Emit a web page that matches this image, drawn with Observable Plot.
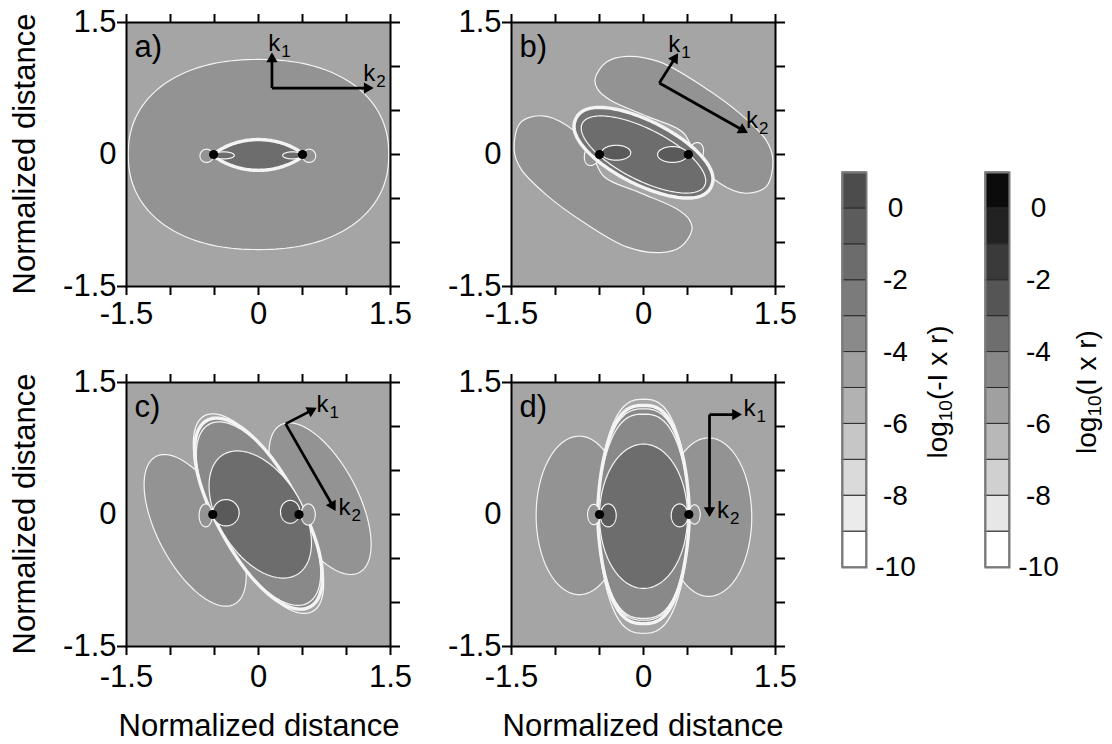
<!DOCTYPE html>
<html><head><meta charset="utf-8">
<script src="https://cdn.jsdelivr.net/npm/d3@7"></script>
<script src="https://cdn.jsdelivr.net/npm/@observablehq/plot@0.6"></script>
<style>
body{margin:0;background:#fff;}
#root{position:relative;width:1112px;height:744px;font-family:"Liberation Sans",Arial,sans-serif;overflow:hidden;color:#000}
#root svg{position:absolute;overflow:visible}
.rot{position:absolute;transform:translate(-50%,-50%) rotate(-90deg);white-space:nowrap;line-height:1}
.hl{position:absolute;transform:translate(-50%,-50%);white-space:nowrap;line-height:1}
sub{font-size:0.68em;vertical-align:-0.28em;line-height:0}
</style></head><body><div id="root"></div>
<script>
// ---------------- data ----------------
const axisTicks = [-1.5, -1, -0.5, 0, 0.5, 1, 1.5];
const labelTicks = [-1.5, 0, 1.5];
const panelLetters = ["a)", "b)", "c)", "d)"];

// fill levels of the contour regions (grey steps)
const levelNames = ["bg", "med", "ring", "ringB", "dark", "core"];

// point charges (normalized coordinates)
const chargesA = [{x: -0.51, y: 0}, {x: 0.50, y: 0}];
const chargesB = [{x: -0.50, y: 0}, {x: 0.51, y: 0}];
const chargesC = [{x: -0.52, y: 0}, {x: 0.46, y: 0}];
const chargesD = [{x: -0.50, y: 0}, {x: 0.515, y: 0}];

// wave-vector arrows k1, k2 (tail, tip, label anchor)
const arrowsA = [
  {sub: "1", x1: 0.153, y1: 0.755, x2: 0.153, y2: 1.13, lx: 0.11, ly: 1.18},
  {sub: "2", x1: 0.153, y1: 0.755, x2: 1.28, y2: 0.755, lx: 1.19, ly: 0.84}
];
const arrowsB = [
  {sub: "1", x1: 0.18, y1: 0.813, x2: 0.377, y2: 1.126, lx: 0.28, ly: 1.16},
  {sub: "2", x1: 0.18, y1: 0.813, x2: 1.161, y2: 0.258, lx: 1.165, ly: 0.30}
];
const arrowsC = [
  {sub: "1", x1: 0.308, y1: 1.03, x2: 0.636, y2: 1.20, lx: 0.66, ly: 1.163},
  {sub: "2", x1: 0.308, y1: 1.03, x2: 0.862, y2: 0.065, lx: 0.91, ly: -0.011}
];
const arrowsD = [
  {sub: "1", x1: 0.75, y1: 1.135, x2: 1.09, y2: 1.135, lx: 1.135, ly: 1.124},
  {sub: "2", x1: 0.75, y1: 1.135, x2: 0.75, y2: 0.0, lx: 0.835, ly: -0.036}
];

// contour regions: ellipse-like (cx, cy, rx, ry, rot, exponents p/q) or traced outlines (pts)
// kind: "level" = thin contour, "zero" = sign-change contour, "line" = contour line only
const shapesA = [
  {kind: "level", level: "med", cx: 0.0, cy: 0.0, rx: 1.48, ry: 1.08, rot: 0, p: 0.9, q: 0.9},
  {kind: "level", level: "med", cx: -0.59, cy: -0.015, rx: 0.075, ry: 0.075, rot: 0},
  {kind: "level", level: "med", cx: 0.575, cy: -0.015, rx: 0.075, ry: 0.075, rot: 0},
  {kind: "zero", level: "dark", cx: 0.0, cy: -0.005, rx: 0.515, ry: 0.175, rot: 0, p: 1.7},
  {kind: "level", level: "dark", cx: -0.395, cy: -0.01, rx: 0.12, ry: 0.04, rot: 0},
  {kind: "level", level: "dark", cx: 0.385, cy: -0.01, rx: 0.11, ry: 0.04, rot: 0}
];
const beanUpperB = [[-0.55,0.86],[-0.42,1.05],[-0.19,1.115],[0.19,1.05],[0.68,0.77],[1.09,0.47],[1.395,0.16],[1.47,-0.06],[1.395,-0.365],[1.15,-0.44],[0.87,-0.33],[0.62,-0.08],[0.45,0.25],[0.05,0.43],[-0.38,0.62],[-0.52,0.74]];
const beanLowerB = [[0.55,-0.86],[0.42,-1.05],[0.19,-1.115],[-0.19,-1.05],[-0.68,-0.77],[-1.09,-0.47],[-1.395,-0.16],[-1.47,0.06],[-1.395,0.365],[-1.15,0.44],[-0.87,0.33],[-0.62,0.08],[-0.45,-0.25],[-0.05,-0.43],[0.38,-0.62],[0.52,-0.74]];
const shapesB = [
  {kind: "level", level: "med", pts: beanUpperB},
  {kind: "level", level: "med", pts: beanLowerB},
  {kind: "level", level: "med", cx: -0.575, cy: 0.01, rx: 0.09, ry: 0.14, rot: -20},
  {kind: "level", level: "med", cx: 0.585, cy: 0.0, rx: 0.09, ry: 0.14, rot: -20},
  {kind: "zero", level: "ringB", cx: 0.0, cy: 0.02, rx: 0.86, ry: 0.36, rot: -27, p: 0.9},
  {kind: "level", level: "dark", cx: 0.0, cy: 0.0, rx: 0.78, ry: 0.29, rot: -27},
  {kind: "level", level: "core", cx: -0.31, cy: 0.02, rx: 0.165, ry: 0.085, rot: 0},
  {kind: "level", level: "core", cx: 0.33, cy: 0.0, rx: 0.17, ry: 0.09, rot: 0}
];
const shapesC = [
  {kind: "level", level: "med", cx: -0.72, cy: -0.18, rx: 0.95, ry: 0.42, rot: -62},
  {kind: "level", level: "med", cx: 0.70, cy: 0.18, rx: 0.95, ry: 0.42, rot: -62},
  {kind: "line", cx: 0.0, cy: 0.01, rx: 1.27, ry: 0.47, rot: -61},
  {kind: "zero", level: "ring", cx: 0.0, cy: 0.01, rx: 1.21, ry: 0.47, rot: -61, q: 0.9},
  {kind: "line", cx: 0.0, cy: 0.01, rx: 1.16, ry: 0.47, rot: -61, q: 0.9},
  {kind: "level", level: "dark", cx: 0.02, cy: 0.0, rx: 0.8, ry: 0.47, rot: -58},
  {kind: "level", level: "med", cx: -0.6, cy: -0.01, rx: 0.075, ry: 0.13, rot: 0},
  {kind: "level", level: "med", cx: 0.565, cy: 0.0, rx: 0.08, ry: 0.12, rot: 0},
  {kind: "level", level: "core", cx: -0.37, cy: 0.02, rx: 0.15, ry: 0.15, rot: 0},
  {kind: "level", level: "core", cx: 0.36, cy: 0.03, rx: 0.11, ry: 0.13, rot: 0}
];
const shapesD = [
  {kind: "level", level: "med", cx: -0.73, cy: -0.01, rx: 0.49, ry: 0.9, rot: 0},
  {kind: "level", level: "med", cx: 0.74, cy: -0.03, rx: 0.49, ry: 0.9, rot: 0},
  {kind: "line", cx: 0.0, cy: -0.02, rx: 0.52, ry: 1.33, rot: 0, q: 0.75, p: 1.15},
  {kind: "zero", level: "ring", cx: 0.0, cy: 0.0, rx: 0.52, ry: 1.24, rot: 0, q: 0.75, p: 1.15},
  {kind: "line", cx: 0.0, cy: 0.0, rx: 0.52, ry: 1.2, rot: 0, q: 0.75, p: 1.15},
  {kind: "line", cx: 0.0, cy: -0.02, rx: 0.52, ry: 1.16, rot: 0, q: 0.75, p: 1.15},
  {kind: "level", level: "dark", cx: 0.0, cy: -0.02, rx: 0.5, ry: 0.82, rot: 0},
  {kind: "level", level: "med", cx: -0.565, cy: 0.0, rx: 0.07, ry: 0.115, rot: 0},
  {kind: "level", level: "med", cx: 0.58, cy: 0.0, rx: 0.065, ry: 0.11, rot: 0},
  {kind: "level", level: "core", cx: -0.40, cy: -0.01, rx: 0.09, ry: 0.13, rot: 0},
  {kind: "level", level: "core", cx: 0.41, cy: -0.01, rx: 0.095, ry: 0.13, rot: 0}
];

// colour bars
const cbLevels = [-10, -9, -8, -7, -6, -5, -4, -3, -2, -1, 0];
const cbTicks = [0, -2, -4, -6, -8, -10];

// ---------------- styles ----------------
const levelGreys = ["#a5a5a5", "#939393", "#898989", "#737373", "#6d6d6d", "#5a5a5a"];
const negPalette = ["#ffffff", "#ebebeb", "#dadada", "#c6c6c6", "#b2b2b2", "#a0a0a0", "#8a8a8a", "#7b7b7b", "#6c6c6c", "#5c5c5c", "#4c4c4c"];
const posPalette = ["#ffffff", "#e7e7e7", "#d0d0d0", "#b8b8b8", "#a0a0a0", "#888888", "#6e6e6e", "#555555", "#3a3a3a", "#222222", "#0b0b0b"];
const FONT = "Liberation Sans, Arial, sans-serif";
const strokeByKind = {level: 1.2, zero: 3.4, line: 1.3};

function outline(s, n = 180) {
  if (s.pts) return s.pts.map(([x, y]) => ({x, y, level: s.level}));
  const th = (s.rot || 0) * Math.PI / 180, p = s.p || 1, q = s.q || 1;
  const out = [];
  for (let i = 0; i < n; i++) {
    const t = 2 * Math.PI * i / n, c = Math.cos(t), sn = Math.sin(t);
    const u = s.rx * Math.sign(c) * Math.abs(c) ** q;
    const v = s.ry * Math.sign(sn) * Math.abs(sn) ** p;
    out.push({x: s.cx + u * Math.cos(th) - v * Math.sin(th), y: s.cy + u * Math.sin(th) + v * Math.cos(th), level: s.level});
  }
  return out;
}

// arrow head: filled triangle just behind the tip, rotated along the shaft
function heads(arrows) {
  return arrows.map(a => {
    const dx = a.x2 - a.x1, dy = a.y2 - a.y1, L = Math.hypot(dx, dy);
    return {x: a.x2 - 0.045 * dx / L, y: a.y2 - 0.045 * dy / L, angle: 90 - Math.atan2(dy, dx) * 180 / Math.PI};
  });
}

function panel(letter, shapes, charges, arrows, padBottom) {
  const marks = [
    Plot.rect([{level: "bg"}], {x1: -1.5, x2: 1.5, y1: -1.5, y2: 1.5, fill: "level"})
  ];
  for (const s of shapes) {
    marks.push(Plot.line(outline(s), {
      x: "x", y: "y",
      fill: s.kind === "line" ? "none" : "level",
      stroke: "#f4f4f4", strokeWidth: strokeByKind[s.kind],
      curve: s.pts ? "catmull-rom-closed" : "linear-closed"
    }));
  }
  marks.push(
    Plot.dot(charges, {x: "x", y: "y", r: 4.6, fill: "black"}),
    Plot.link(arrows, {x1: "x1", y1: "y1", x2: "x2", y2: "y2", stroke: "black", strokeWidth: 2.7}),
    Plot.dot(heads(arrows), {x: "x", y: "y", symbol: "triangle", r: 4.2, rotate: "angle", fill: "black"}),
    Plot.text(arrows, {x: "lx", y: "ly", text: () => "k", textAnchor: "start", lineAnchor: "bottom", fontSize: 24}),
    Plot.text(arrows, {x: "lx", y: "ly", text: "sub", dx: 13, dy: 6, textAnchor: "start", lineAnchor: "bottom", fontSize: 17}),
    Plot.text([letter], {frameAnchor: "top-left", dx: 8, dy: 12, textAnchor: "start", lineAnchor: "top", fontSize: 31}),
    Plot.frame({stroke: "black", strokeWidth: 2}),
    Plot.axisX({anchor: "bottom", ticks: axisTicks, tickSize: 9, strokeWidth: 2, tickFormat: () => "", label: null}),
    Plot.axisX({anchor: "top", ticks: axisTicks, tickSize: 9, strokeWidth: 2, tickFormat: () => "", label: null}),
    Plot.axisY({anchor: "right", ticks: axisTicks, tickSize: 9, strokeWidth: 2, tickFormat: () => "", label: null}),
    Plot.axisY({anchor: "left", ticks: [-1.5, 1.5], tickSize: 9, strokeWidth: 2, tickFormat: () => "", label: null}),
    Plot.axisX({anchor: "bottom", ticks: labelTicks, tickSize: 0, tickPadding: padBottom, tickFormat: d => String(d), fontSize: 31, label: null}),
    Plot.axisY({anchor: "left", ticks: labelTicks, tickSize: 0, tickPadding: 10, tickFormat: d => String(d), fontSize: 31, label: null})
  );
  return Plot.plot({
    width: 369, height: 336,
    marginLeft: 80, marginRight: 25, marginTop: 22, marginBottom: 50,
    x: {domain: [-1.5, 1.5]},
    y: {domain: [-1.5, 1.5]},
    color: {type: "ordinal", domain: levelNames, range: levelGreys},
    style: {fontFamily: FONT, fontSize: "31px", background: "transparent", overflow: "visible", color: "black"},
    marks
  });
}

function colorbar(palette) {
  const bands = cbLevels.map((lo, i) => ({lo, hi: lo + 1, tone: palette[i]}));
  return Plot.plot({
    width: 120, height: 440,
    marginTop: 22, marginBottom: 23, marginLeft: 12, marginRight: 84,
    x: {domain: [0, 1], axis: null},
    y: {domain: [-10, 1]},
    color: {type: "identity"},
    style: {fontFamily: FONT, fontSize: "28px", background: "transparent", overflow: "visible", color: "black"},
    marks: [
      Plot.rect(bands, {x1: 0, x2: 1, y1: "lo", y2: "hi", fill: "tone", stroke: "#2a2a2a", strokeWidth: 1}),
      Plot.frame({stroke: "#7a7a7a", strokeWidth: 2}),
      Plot.axisY({anchor: "right", ticks: cbTicks, tickSize: 0, tickPadding: 29, textAnchor: "middle", tickFormat: d => String(d), fontSize: 28, label: null})
    ]
  });
}

const root = document.getElementById("root");
function place(el, left, top) { el.style.left = left + "px"; el.style.top = top + "px"; root.appendChild(el); }
place(panel(panelLetters[0], shapesA, chargesA, arrowsA, 15), 46, 0);
place(panel(panelLetters[1], shapesB, chargesB, arrowsB, 15), 431, 0);
place(panel(panelLetters[2], shapesC, chargesC, arrowsC, 18), 46, 360);
place(panel(panelLetters[3], shapesD, chargesD, arrowsD, 18), 431, 360);
place(colorbar(negPalette), 830, 150);
place(colorbar(posPalette), 973, 150);

function label(html, cls, x, y, size) {
  const d = document.createElement("div");
  d.className = cls; d.innerHTML = html; d.style.fontSize = size + "px";
  d.style.left = x + "px"; d.style.top = y + "px";
  root.appendChild(d);
}
label("Normalized distance", "rot", 24, 154, 31);
label("Normalized distance", "rot", 24, 514, 31);
label("Normalized distance", "hl", 259, 725, 31);
label("Normalized distance", "hl", 643, 725, 31);
label("log<sub>10</sub>(-I x r)", "rot", 938, 392, 28);
label("log<sub>10</sub>(I x r)", "rot", 1087, 392, 28);
</script></body></html>
